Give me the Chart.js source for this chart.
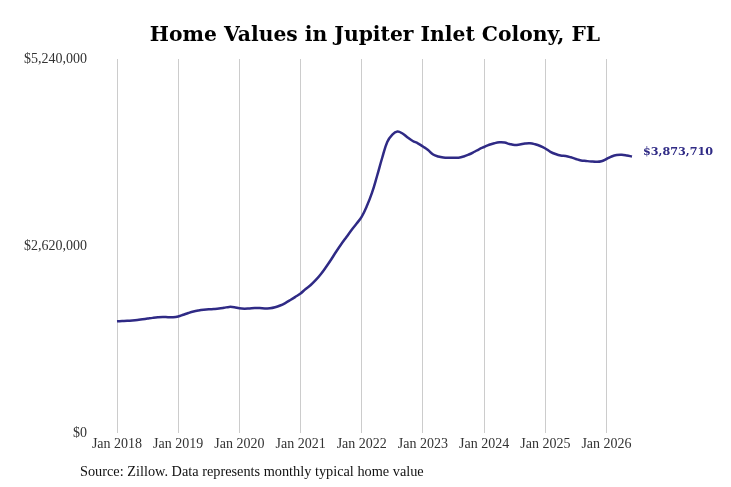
<!DOCTYPE html>
<html>
<head>
<meta charset="utf-8">
<script src="https://cdn.jsdelivr.net/npm/chart.js@4/dist/chart.umd.min.js"></script>
<style>
    body { margin: 0; background: #fff; }
    canvas { display: block; }
</style>
</head>
<body>
<canvas id="homeChart" width="731" height="487"></canvas>
<script>
const years = ['2018', '2019', '2020', '2021', '2022', '2023', '2024', '2025', '2026'];
const months = ['Jan', 'Feb', 'Mar', 'Apr', 'May', 'Jun', 'Jul', 'Aug', 'Sep', 'Oct', 'Nov', 'Dec'];

// typical home value, monthly, Jan 2018 - Jun 2026
const homeValues = [
    1565000, 1568000, 1571000, 1576000, 1583000, 1593000, 1603000, 1613000, 1621000, 1625000, 1622000, 1621000,
    1632000, 1656000, 1681000, 1702000, 1716000, 1726000, 1733000, 1737000, 1743000, 1754000, 1767000, 1763000,
    1747000, 1742000, 1746000, 1751000, 1750000, 1746000, 1747000, 1761000, 1786000, 1821000, 1863000, 1908000,
    1955000, 2018000, 2074000, 2144000, 2228000, 2326000, 2431000, 2543000, 2648000, 2746000, 2844000, 2935000,
    3033000, 3180000, 3363000, 3601000, 3853000, 4077000, 4182000, 4224000, 4196000, 4140000, 4091000, 4059000,
    4014000, 3965000, 3902000, 3874000, 3860000, 3856000, 3857000, 3857000, 3874000, 3902000, 3937000, 3975000,
    4007000, 4038000, 4060000, 4073000, 4070000, 4049000, 4035000, 4042000, 4055000, 4059000, 4045000, 4021000,
    3986000, 3940000, 3909000, 3888000, 3881000, 3863000, 3839000, 3819000, 3811000, 3804000, 3800000, 3807000,
    3839000, 3874000, 3895000, 3898000, 3888000, 3873710
];

const yTicks = [0, 2620000, 5240000];

const labels = [];
years.forEach(y => months.forEach(m => labels.push(m + ' ' + y)));
labels.length = homeValues.length;

const lineColor = '#2f2a85';

function money(v) {
    return '$' + Math.round(v).toLocaleString('en-US');
}

const textPlugin = {
    id: 'textPlugin',
    afterDraw(chart) {
        const ctx = chart.ctx;
        ctx.save();
        ctx.fillStyle = '#000';
        ctx.font = 'bold 20.3px "DejaVu Serif"';
        ctx.textAlign = 'center';
        ctx.textBaseline = 'middle';
        ctx.fillText('Home Values in Jupiter Inlet Colony, FL', 375, 36);

        ctx.fillStyle = '#111';
        ctx.font = '14.3px "Liberation Serif"';
        ctx.textAlign = 'left';
        ctx.fillText('Source: Zillow. Data represents monthly typical home value', 80, 472);

        const pts = chart.getDatasetMeta(0).data;
        const last = pts[pts.length - 1];
        ctx.fillStyle = lineColor;
        ctx.font = 'bold 11.2px "DejaVu Serif"';
        ctx.fillText(money(homeValues[homeValues.length - 1]), last.x + 11, last.y - 4);
        ctx.restore();
    }
};

new Chart(document.getElementById('homeChart').getContext('2d'), {
    type: 'line',
    data: {
        labels: labels,
        datasets: [{
            data: homeValues,
            borderColor: lineColor,
            borderWidth: 2.5,
            pointRadius: 0,
            tension: 0.4,
            fill: false
        }]
    },
    options: {
        responsive: false,
        animation: false,
        layout: { padding: { top: 59, right: 99, bottom: 30, left: 0 } },
        plugins: {
            legend: { display: false },
            tooltip: { enabled: false }
        },
        scales: {
            x: {
                type: 'category',
                offset: false,
                border: { display: false },
                grid: {
                    drawTicks: false,
                    color: ctx => (ctx.index % 12 === 0 ? '#cccccc' : 'rgba(0,0,0,0)')
                },
                ticks: {
                    autoSkip: false,
                    maxRotation: 0,
                    padding: 3,
                    color: '#333',
                    font: { family: '"Liberation Serif"', size: 14 },
                    callback: (v, i) => (i % 12 === 0 ? labels[i] : '')
                },
                afterFit: scale => { scale.height = 24; }
            },
            y: {
                min: 0,
                max: 5240000,
                border: { display: false },
                grid: { display: false, drawTicks: false },
                afterBuildTicks: scale => { scale.ticks = yTicks.map(v => ({ value: v })); },
                ticks: {
                    padding: 30,
                    color: '#333',
                    font: { family: '"Liberation Serif"', size: 14 },
                    callback: v => money(v)
                },
                afterFit: scale => { scale.width = 117; }
            }
        }
    },
    plugins: [textPlugin]
});
</script>
</body>
</html>
